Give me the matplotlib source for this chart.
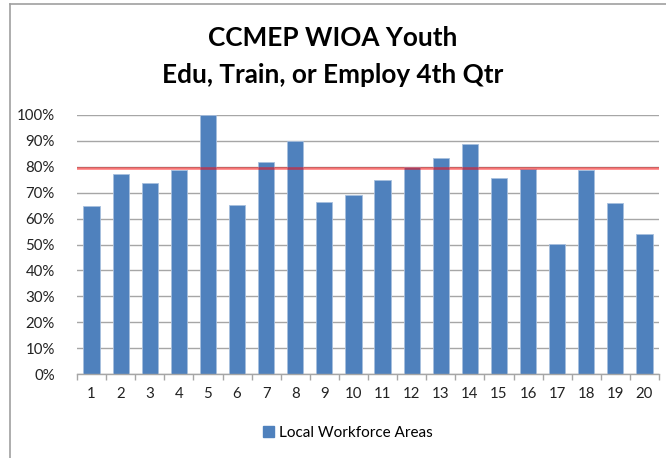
import numpy as np
import matplotlib.pyplot as plt
from matplotlib.lines import Line2D
from matplotlib.patches import Patch
from matplotlib.ticker import PercentFormatter, FixedLocator

plt.rcParams['font.family'] = ['Lato', 'DejaVu Sans']

areas = [str(i) for i in range(1, 21)]
rates = [64.9, 77.3, 73.6, 78.6, 100.0, 65.1, 82.0, 90.1, 66.5, 69.0,
         75.0, 80.1, 83.4, 88.9, 75.7, 79.2, 50.2, 78.6, 66.0, 53.9]
target = 79.5

bar_color = '#4F81BD'
grid_color = '#A6A6A6'

fig = plt.figure(figsize=(6.66, 4.58), dpi=100)
ax = fig.add_axes([77 / 666, 1 - 374 / 458, 582 / 666, 259 / 458])

x = np.arange(1, len(areas) + 1)
ax.bar(x, rates, width=0.56, color=bar_color, edgecolor='#A7BFDE', linewidth=0.6, zorder=2)
ax.axhline(target, color='#FF0000', alpha=0.5, linewidth=1.9, zorder=3)

ax.set_xlim(0.5, len(areas) + 0.5)
ax.set_ylim(0, 100)
ax.set_yticks(np.arange(0, 101, 10))
ax.yaxis.set_major_formatter(PercentFormatter(decimals=0))
ax.yaxis.grid(True, color=grid_color, linewidth=1.0, zorder=0)
ax.set_axisbelow(True)

ax.set_xticks(x)
ax.set_xticklabels(areas)
ax.xaxis.set_minor_locator(FixedLocator(np.arange(0.5, len(areas) + 1, 1)))
ax.tick_params(axis='x', which='major', length=0, pad=9, labelsize=10.8, colors='#222222')
ax.tick_params(axis='x', which='minor', length=4, width=1, color=grid_color)
ax.tick_params(axis='y', length=0, pad=16, labelsize=10.8, colors='#222222')

for side in ['left', 'right', 'top']:
    ax.spines[side].set_visible(False)
ax.spines['bottom'].set_color(grid_color)
ax.spines['bottom'].set_linewidth(1.0)

fig.text(0.5, 1 - 38 / 458, 'CCMEP WIOA Youth', ha='center', va='center',
         fontsize=18.8, fontweight='bold', color='black')
fig.text(0.5, 1 - 75 / 458, 'Edu, Train, or Employ 4th Qtr', ha='center', va='center',
         fontsize=18.8, fontweight='bold', color='black')

handles = [Patch(facecolor=bar_color, edgecolor=bar_color, label='Local Workforce Areas')]
fig.legend(handles=handles, loc='center', bbox_to_anchor=(0.522, 1 - 433 / 458), frameon=False,
           fontsize=11, handlelength=0.75, handleheight=0.75, handletextpad=0.3)

# chart frame (left and top edges visible in the reference)
fig.add_artist(Line2D([10 / 666, 10 / 666], [0, 1 - 4 / 458], color='#A0A0A0', linewidth=1.2))
fig.add_artist(Line2D([10 / 666, 1], [1 - 4 / 458, 1 - 4 / 458], color='#A0A0A0', linewidth=1.2))

fig.savefig('out.png', dpi=100)
